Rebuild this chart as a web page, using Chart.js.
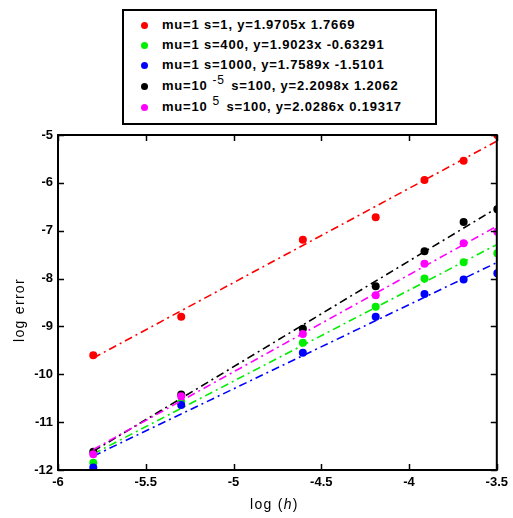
<!DOCTYPE html>
<html>
<head>
<meta charset="utf-8">
<script src="https://cdn.jsdelivr.net/npm/chart.js@4.4.1/dist/chart.umd.min.js"></script>
<style>
  html, body { margin: 0; padding: 0; background: #fff; }
  #wrap { position: relative; width: 513px; height: 518px; }
  #c { position: absolute; left: 0; top: 0; }
  #legend {
    position: absolute; left: 122px; top: 9px; width: 311px; height: 112px;
    border: 2px solid #000; background: #fff;
    font-family: "Liberation Sans", Arial, sans-serif; font-weight: bold; font-size: 13px; color: #000;
    letter-spacing: 0.8px;
  }
  .row { position: absolute; left: 0; height: 16px; line-height: 16px; white-space: nowrap; }
  .dot { position: absolute; left: 17px; top: 5px; width: 7px; height: 7px; border-radius: 50%; }
  .txt { position: absolute; left: 38px; top: 0; }
  sup { font-size: 12px; position: relative; top: -1px; vertical-align: super; line-height: 0; font-weight: normal; margin-left: 5px; margin-right: 2px; }
</style>
</head>
<body>
<div id="wrap">
  <canvas id="c" width="513" height="518"></canvas>
  <div id="legend"></div>
</div>
<script>
// ---- data ----
const xVals = [-5.799, -5.298, -4.605, -4.190, -3.912, -3.689, -3.497];
const redY     = [-9.60, -8.80, -7.19, -6.72, -5.94, -5.54, -5.00];
const greenY   = [-11.85, -10.58, -9.34, -8.59, -8.00, -7.66, -7.47];
const blueY    = [-11.95, -10.64, -9.55, -8.80, -8.32, -8.02, -7.89];
const blackY   = [-11.62, -10.42, -9.05, -8.16, -7.43, -6.82, -6.55];
const magentaY = [-11.67, -10.46, -9.16, -8.35, -7.69, -7.26, -7.02];
// fitted line endpoints (from legend equations) at first and last x
const fitX = [-5.799, -3.497];
const redFit     = [-9.660, -5.124];
const greenFit   = [-11.664, -7.285];
const blueFit    = [-11.710, -7.661];
const blackFit   = [-11.609, -6.521];
const magentaFit = [-11.571, -6.901];
const xTicks = [-6, -5.5, -5, -4.5, -4, -3.5];
const yTicks = [-5, -6, -7, -8, -9, -10, -11, -12];
const legendLabels = [
  'mu=1 s=1, y=1.9705x 1.7669',
  'mu=1 s=400, y=1.9023x -0.63291',
  'mu=1 s=1000, y=1.7589x -1.5101',
  'mu=10<sup>-5</sup> s=100, y=2.2098x 1.2062',
  'mu=10<sup>5</sup> s=100, y=2.0286x 0.19317'
];
const colors = ['#ff0000', '#00ee00', '#0000ff', '#000000', '#ff00ff'];
const seriesY = [redY, greenY, blueY, blackY, magentaY];
const seriesFit = [redFit, greenFit, blueFit, blackFit, magentaFit];

// ---- legend ----
const lg = document.getElementById('legend');
const rowTops = [6, 26, 46, 67, 88];
legendLabels.forEach((t, i) => {
  const r = document.createElement('div');
  r.className = 'row';
  r.style.top = rowTops[i] + 'px';
  r.innerHTML = '<span class="dot" style="background:' + colors[i] + '"></span><span class="txt">' + t + '</span>';
  lg.appendChild(r);
});

// ---- datasets ----
const datasets = [];
seriesY.forEach((ys, i) => {
  datasets.push({
    type: 'line',
    data: fitX.map((x, k) => ({ x: x, y: seriesFit[i][k] })),
    borderColor: colors[i], borderWidth: 1.6,
    borderDash: [8, 4, 2, 4],
    pointRadius: 0, fill: false, showLine: true, order: 10 - i
  });
  datasets.push({
    type: 'scatter',
    data: xVals.map((x, k) => ({ x: x, y: ys[k] })),
    backgroundColor: colors[i], borderColor: colors[i],
    pointRadius: 4, pointBorderWidth: 0, showLine: false, order: 10 - i
  });
});

const FAM = '"Liberation Sans", Arial, sans-serif';
const FONT = { family: FAM, size: 13, weight: 'bold' };

const boxPlugin = {
  id: 'box',
  afterDatasetsDraw(chart) {
    const { ctx, chartArea: a, scales } = chart;
    ctx.save();
    ctx.strokeStyle = '#000';
    ctx.lineWidth = 2;
    ctx.strokeRect(a.left, a.top, a.right - a.left, a.bottom - a.top);
    ctx.lineWidth = 1.5;
    ctx.beginPath();
    const L = 6;
    xTicks.forEach(v => {
      const px = Math.round(scales.x.getPixelForValue(v)) + 0.5;
      ctx.moveTo(px, a.bottom); ctx.lineTo(px, a.bottom - L);
      ctx.moveTo(px, a.top); ctx.lineTo(px, a.top + L);
    });
    yTicks.forEach(v => {
      const py = Math.round(scales.y.getPixelForValue(v)) + 0.5;
      ctx.moveTo(a.left, py); ctx.lineTo(a.left + L, py);
      ctx.moveTo(a.right, py); ctx.lineTo(a.right - L, py);
    });
    ctx.stroke();

    // axis titles
    ctx.fillStyle = '#000';
    ctx.textBaseline = 'middle';
    ctx.textAlign = 'left';
    ctx.letterSpacing = '1.3px';
    const parts = [['log (', 'normal 14px ' + FAM], ['h', 'italic 14px ' + FAM], [')', 'normal 14px ' + FAM]];
    let w = 0;
    parts.forEach(p => { ctx.font = p[1]; w += ctx.measureText(p[0]).width; });
    const cx = (a.left + a.right) / 2 - 3;
    let x0 = cx - w / 2;
    parts.forEach(p => { ctx.font = p[1]; ctx.fillText(p[0], x0, 505); x0 += ctx.measureText(p[0]).width; });

    ctx.save();
    ctx.translate(20, 310);
    ctx.rotate(-Math.PI / 2);
    ctx.textAlign = 'center';
    ctx.font = 'normal 14px ' + FAM;
    ctx.fillText('log error', 0, 0);
    ctx.restore();
    ctx.restore();
  }
};

new Chart(document.getElementById('c'), {
  type: 'scatter',
  data: { datasets },
  options: {
    responsive: false, animation: false, devicePixelRatio: 1,
    layout: { padding: { top: 135, right: 14, left: 0, bottom: 0 } },
    plugins: { legend: { display: false }, tooltip: { enabled: false } },
    scales: {
      x: {
        type: 'linear', min: -6, max: -3.5,
        afterBuildTicks: s => { s.ticks = xTicks.map(v => ({ value: v })); },
        afterFit: s => { s.height = 48; },
        grid: { display: false, drawTicks: false }, border: { display: false },
        ticks: { color: '#000', font: FONT, padding: 5, maxRotation: 0, callback: v => String(v) },
        title: { display: false }
      },
      y: {
        type: 'linear', min: -12, max: -5,
        afterBuildTicks: s => { s.ticks = yTicks.map(v => ({ value: v })); },
        afterFit: s => { s.width = 58; },
        grid: { display: false, drawTicks: false }, border: { display: false },
        ticks: { color: '#000', font: FONT, padding: 5, callback: v => String(v) },
        title: { display: false }
      }
    }
  },
  plugins: [boxPlugin]
});
</script>
</body>
</html>
